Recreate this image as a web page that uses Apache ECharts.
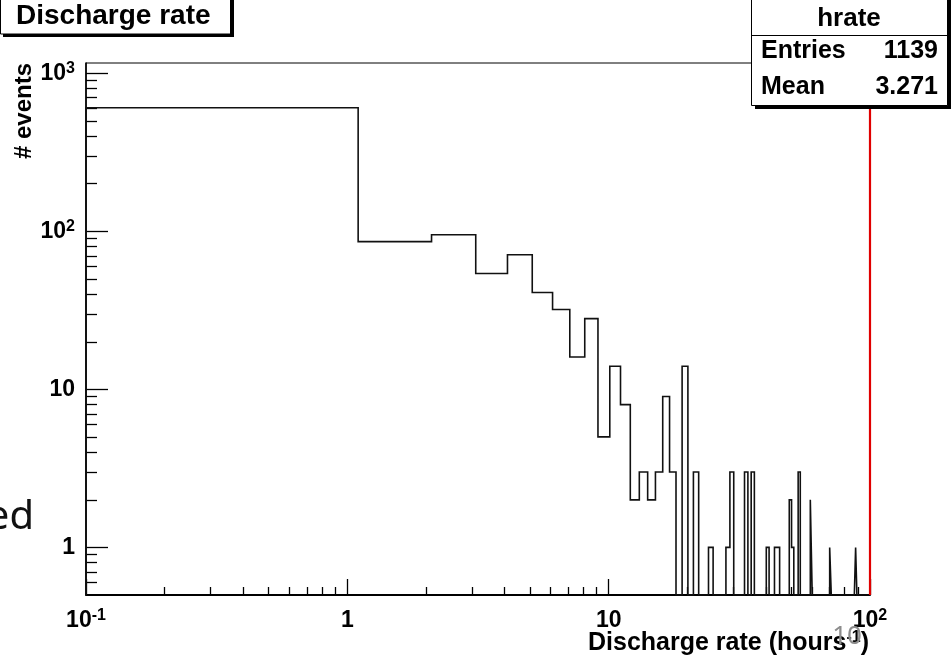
<!DOCTYPE html>
<html><head><meta charset="utf-8">
<script src="https://cdn.jsdelivr.net/npm/echarts@6/dist/echarts.min.js"></script>
<style>html,body{margin:0;padding:0;background:#fff;overflow:hidden}#c{width:951px;height:660px}</style>
</head><body><div id="c"></div>
<script>
// ---- data (histogram "hrate": bins of width 1 starting at 0.1) ----
const binLow = 0.1;
const binWidth = 1;
const counts = [
  605, 86, 95, 54, 71, 41, 32, 16, 28, 5,
  14, 8, 2, 3, 2, 3, 9, 3, 0, 14,
  0, 3, 0, 0, 1, 0, 0, 0, 1, 3,
  0, 0, 0, 3, 0, 3, 0, 0, 0, 0,
  1, 0, 0, 1, 1, 0, 0, 0, 0, 2,
  1, 0, 0, 3, 0, 0, 0, 0, 0, 2,
  0, 0, 0, 0, 0, 0, 0, 0, 0, 0,
  1, 0, 0, 0, 0, 0, 0, 0, 0, 0,
  0, 0, 0, 0, 0, 0, 0, 0, 1, 0,
  0, 0, 0, 0, 0, 0, 0, 0, 0, 0
];
const xRange = [0.1, 100];
const yRange = [0.5, 1160];
const xMajorTicks = [0.1, 1, 10, 100];
const xMajorLabels = [['10', '-1'], ['1', ''], ['10', ''], ['10', '2']];
const xMinorTicks = [0.2, 0.3, 0.4, 0.5, 0.6, 0.7, 0.8, 0.9, 2, 3, 4, 5, 6, 7, 8, 9, 20, 30, 40, 50, 60, 70, 80, 90];
const yMajorTicks = [1, 10, 100, 1000];
const yMajorLabels = [['1', ''], ['10', ''], ['10', '2'], ['10', '3']];
const yMinorTicks = [0.6, 0.7, 0.8, 0.9, 2, 3, 4, 5, 6, 7, 8, 9, 20, 30, 40, 50, 60, 70, 80, 90, 200, 300, 400, 500, 600, 700, 800, 900];
const redLineX = 100;
const titleText = 'Discharge rate';
const xTitle = ['Discharge rate (hours', '-1', ')'];
const yTitle = '# events';
const statsName = 'hrate';
const statsRows = [['Entries', '1139'], ['Mean', '3.271']];
const slideText = 'ed';
const slideNumber = '10';

// ---- build histogram outline ----
const FLOOR = yRange[0];
const histPoints = [[binLow, FLOOR]];
counts.forEach((c, i) => {
  const lo = binLow + i * binWidth, hi = lo + binWidth;
  const v = c > 0 ? c : FLOOR;
  histPoints.push([lo, v], [hi, v]);
});
histPoints.push([binLow + counts.length * binWidth, FLOOR]);

const FONT = "'Liberation Sans', Arial, Helvetica, sans-serif";
function labelFmt(ticks, labels) {
  return function (v) {
    let best = 0, bd = Infinity;
    ticks.forEach((t, i) => { const d = Math.abs(Math.log10(t) - Math.log10(v)); if (d < bd) { bd = d; best = i; } });
    const l = labels[best];
    return '{b|' + l[0] + '}' + (l[1] ? '{s|' + l[1] + '}' : '');
  };
}
const richLbl = {
  b: { fontSize: 23, fontWeight: 'bold', fontFamily: FONT, color: '#000', lineHeight: 25 },
  s: { fontSize: 16, fontWeight: 'bold', fontFamily: FONT, color: '#000', verticalAlign: 'top', lineHeight: 16 }
};

const chart = echarts.init(document.getElementById('c'), null, { renderer: 'canvas' });
chart.setOption({
  animation: false,
  backgroundColor: '#fff',
  grid: { left: 86, top: 63, width: 784, height: 532, show: true, borderColor: '#000', borderWidth: 1, backgroundColor: 'transparent' },
  xAxis: [
    {
      type: 'log', logBase: 10, min: xRange[0], max: xRange[1], position: 'bottom',
      axisLine: { show: true, lineStyle: { color: '#000', width: 2 } },
      axisTick: { show: true, inside: true, length: 16, customValues: xMajorTicks, lineStyle: { color: '#000', width: 1.3 } },
      axisLabel: { show: true, customValues: xMajorTicks, margin: 13, formatter: labelFmt(xMajorTicks, xMajorLabels), rich: richLbl },
      splitLine: { show: false }, minorTick: { show: false }
    },
    {
      type: 'log', logBase: 10, min: xRange[0], max: xRange[1], position: 'bottom',
      axisLine: { show: false },
      axisTick: { show: true, inside: true, length: 8, customValues: xMinorTicks, lineStyle: { color: '#000', width: 1.3 } },
      axisLabel: { show: false }, splitLine: { show: false }
    }
  ],
  yAxis: [
    {
      type: 'log', logBase: 10, min: yRange[0], max: yRange[1], position: 'left',
      axisLine: { show: true, lineStyle: { color: '#000', width: 1.6 } },
      axisTick: { show: true, inside: true, length: 22, customValues: yMajorTicks, lineStyle: { color: '#000', width: 1.3 } },
      axisLabel: { show: true, customValues: yMajorTicks, margin: 11, formatter: labelFmt(yMajorTicks, yMajorLabels), rich: richLbl },
      splitLine: { show: false }, minorTick: { show: false }
    },
    {
      type: 'log', logBase: 10, min: yRange[0], max: yRange[1], position: 'left',
      axisLine: { show: false },
      axisTick: { show: true, inside: true, length: 11, customValues: yMinorTicks, lineStyle: { color: '#000', width: 1.3 } },
      axisLabel: { show: false }, splitLine: { show: false }
    }
  ],
  series: [
    {
      type: 'line', xAxisIndex: 0, yAxisIndex: 0, data: histPoints,
      showSymbol: false, symbol: 'none', clip: true, silent: true,
      lineStyle: { color: '#111', width: 1.6, join: 'miter', miterLimit: 10 },
      markLine: {
        silent: true, symbol: ['none', 'none'], animation: false,
        label: { show: false },
        lineStyle: { color: '#e00000', width: 2.2, type: 'solid' },
        data: [{ xAxis: redLineX }]
      },
      z: 3
    }
  ],
  graphic: [
    // title box
    { type: 'rect', z: 100, shape: { x: 3, y: -2, width: 231, height: 39 }, style: { fill: '#000' } },
    { type: 'rect', z: 101, shape: { x: 0.5, y: -2, width: 230, height: 36 }, style: { fill: '#fff', stroke: '#000', lineWidth: 1 } },
    { type: 'text', z: 102, style: { text: titleText, x: 16, y: 16, align: 'left', verticalAlign: 'middle', font: "bold 28px " + FONT, fill: '#000' } },
    // stats box
    { type: 'rect', z: 100, shape: { x: 755, y: -2, width: 196, height: 111 }, style: { fill: '#000' } },
    { type: 'rect', z: 101, shape: { x: 751.5, y: -2, width: 196, height: 107.5 }, style: { fill: '#fff', stroke: '#000', lineWidth: 1 } },
    { type: 'line', z: 102, shape: { x1: 751.5, y1: 35.5, x2: 947.5, y2: 35.5 }, style: { stroke: '#000', lineWidth: 1 } },
    { type: 'text', z: 102, style: { text: statsName, x: 849, y: 19, align: 'center', verticalAlign: 'middle', font: "bold 26px " + FONT, fill: '#000' } },
    { type: 'text', z: 102, style: { text: statsRows[0][0], x: 761, y: 51, align: 'left', verticalAlign: 'middle', font: "bold 25px " + FONT, fill: '#000' } },
    { type: 'text', z: 102, style: { text: statsRows[0][1], x: 938, y: 51, align: 'right', verticalAlign: 'middle', font: "bold 25px " + FONT, fill: '#000' } },
    { type: 'text', z: 102, style: { text: statsRows[1][0], x: 761, y: 87, align: 'left', verticalAlign: 'middle', font: "bold 25px " + FONT, fill: '#000' } },
    { type: 'text', z: 102, style: { text: statsRows[1][1], x: 938, y: 87, align: 'right', verticalAlign: 'middle', font: "bold 25px " + FONT, fill: '#000' } },
    // axis titles
    { type: 'text', z: 102, style: {
        text: '{t|' + xTitle[0] + '}{s|' + xTitle[1] + '}{t|' + xTitle[2] + '}',
        x: 869, y: 643, align: 'right', verticalAlign: 'middle',
        rich: {
          t: { fontSize: 25, fontWeight: 'bold', fontFamily: FONT, fill: '#000', lineHeight: 26 },
          s: { fontSize: 16, fontWeight: 'bold', fontFamily: FONT, fill: '#000', verticalAlign: 'top', lineHeight: 16 }
        } } },
    { type: 'text', z: 102, x: 24, y: 63, rotation: Math.PI / 2,
      style: { text: yTitle, x: 0, y: 0, align: 'right', verticalAlign: 'middle', font: "bold 24px " + FONT, fill: '#000' } },
    // slide remnants
    { type: 'text', z: 102, style: { text: slideText, x: 34, y: 518, align: 'right', verticalAlign: 'middle', font: "40px 'Noto Sans', sans-serif", fill: '#111' } },
    { type: 'text', z: 110, style: { text: slideNumber, x: 847, y: 637, align: 'center', verticalAlign: 'middle', font: "26px 'Noto Sans', sans-serif", fill: '#8c8c8c' } }
  ]
});
</script>
</body></html>
